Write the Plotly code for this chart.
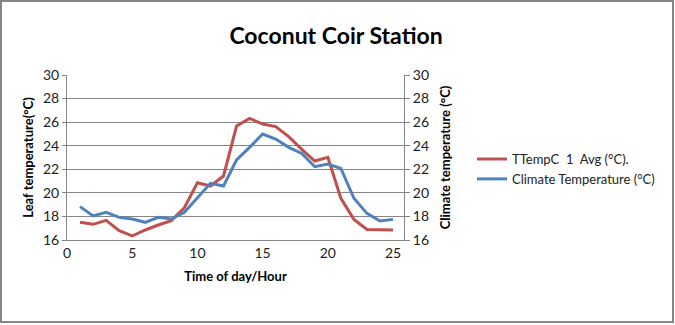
import plotly.graph_objects as go

# Hourly readings
hours = list(range(1, 26))
leaf_temp = [17.50, 17.33, 17.67, 16.79, 16.34, 16.85, 17.27, 17.64, 18.74, 20.86,
             20.58, 21.43, 25.67, 26.32, 25.84, 25.62, 24.77, 23.69, 22.70, 23.01,
             19.54, 17.75, 16.90, 16.85, 16.85]
climate_temp = [18.83, 18.04, 18.35, 17.92, 17.78, 17.50, 17.92, 17.78, 18.35, 19.62,
                20.81, 20.58, 22.79, 23.86, 24.99, 24.57, 23.86, 23.35, 22.22, 22.45,
                22.08, 19.54, 18.26, 17.61, 17.75]

x_ticks = [0, 5, 10, 15, 20, 25]
y_ticks = [16, 18, 20, 22, 24, 26, 28, 30]

RED = "#C0504D"
BLUE = "#4F81BD"
GRID = "#868686"
TICK_FONT = dict(family="Liberation Sans Narrow, Lato, sans-serif", size=14, color="#222222")
BOLD_FONT = "Lato, Open Sans, sans-serif"

# plot area in pixels: left 67, right 404, top 75, bottom 240
PW, PH = 337, 165

fig = go.Figure()
fig.add_trace(go.Scatter(x=hours, y=leaf_temp, mode="lines", name="TTempC  1  Avg (°C).",
                         line=dict(color=RED, width=3)))
fig.add_trace(go.Scatter(x=hours, y=climate_temp, mode="lines", name="Climate Temperature (°C)",
                         line=dict(color=BLUE, width=3), yaxis="y2"))

fig.update_layout(
    width=675, height=325,
    margin=dict(l=67, r=271, t=75, b=85),
    paper_bgcolor="white", plot_bgcolor="white",
    title=dict(text="<b>Coconut Coir Station</b>", x=336 / 675, xanchor="center",
               y=1 - 36 / 325, yanchor="middle",
               font=dict(family=BOLD_FONT, size=23, color="black")),
    xaxis=dict(range=[0, 25.84], tickvals=x_ticks, showgrid=False, zeroline=False,
               showline=True, linecolor=GRID, linewidth=1, ticks="",
               tickfont=TICK_FONT,
               title=dict(text="<b>Time of day/Hour</b>", standoff=12,
                          font=dict(family=BOLD_FONT, size=13, color="black"))),
    yaxis=dict(range=[16, 30], tickvals=y_ticks, showgrid=True, gridcolor=GRID, gridwidth=1,
               zeroline=False, showline=True, linecolor=GRID, linewidth=1,
               ticks="outside", ticklen=4, tickcolor=GRID, tickfont=TICK_FONT,
               title=dict(text="<b>Leaf temperature(°C)</b>", standoff=6,
                          font=dict(family=BOLD_FONT, size=13, color="black"))),
    yaxis2=dict(range=[16, 30], tickvals=y_ticks, overlaying="y", side="right",
                showgrid=False, zeroline=False, showline=True, linecolor=GRID, linewidth=1,
                ticks="outside", ticklen=5, tickcolor=GRID, tickfont=TICK_FONT,
                title=dict(text="<b>Climate temperature (°C)</b>", standoff=12,
                           font=dict(family=BOLD_FONT, size=13, color="black"))),
    legend=dict(x=(472 - 67) / PW, xanchor="left", y=0.43, yanchor="middle",
                font=dict(family="Liberation Sans Narrow, Lato, sans-serif", size=13, color="#222222"),
                bgcolor="rgba(0,0,0,0)", tracegroupgap=6, itemwidth=30),
    shapes=[dict(type="rect", xref="paper", yref="paper",
                 x0=(1 - 67) / PW, x1=(673 - 67) / PW, y0=-(322 - 240) / PH, y1=1 + (75 - 1) / PH,
                 line=dict(color=GRID, width=2), fillcolor="rgba(0,0,0,0)", layer="below")],
)

fig.write_html("out.html")
